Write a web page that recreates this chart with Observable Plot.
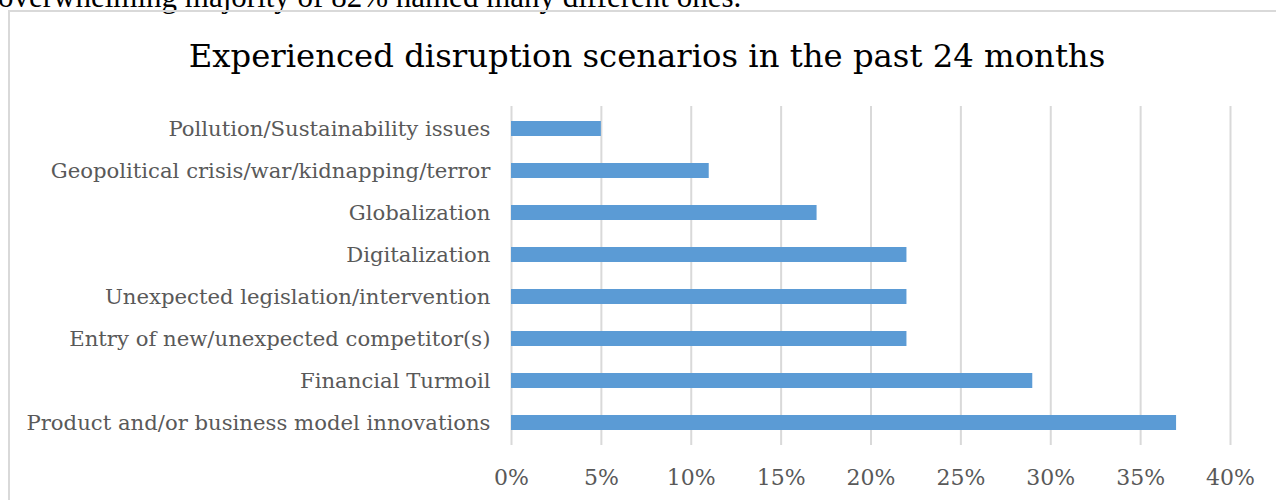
<!DOCTYPE html>
<html>
<head>
<meta charset="utf-8">
<script src="https://cdn.jsdelivr.net/npm/d3@7"></script>
<script src="https://cdn.jsdelivr.net/npm/@observablehq/plot@0.6"></script>
<style>
  html, body { margin: 0; padding: 0; background: #fff; overflow: hidden; }
  #wrap { position: relative; width: 1276px; height: 500px; overflow: hidden; }
  #lead { position: absolute; left: -2px; top: -21px; font-family: "Liberation Serif", serif; font-size: 31px; color: #000; white-space: nowrap; }
  #box { position: absolute; left: 8px; top: 10px; width: 1300px; height: 520px; border-top: 2px solid #d9d9d9; border-left: 2px solid #d9d9d9; box-sizing: border-box; }
  #title { position: absolute; left: 647px; top: 37px; transform: translateX(-50%); font-family: "DejaVu Serif", serif; font-size: 32.3px; color: #000; white-space: nowrap; }
  #chart { position: absolute; left: 0; top: 0; }
</style>
</head>
<body>
<div id="wrap">
  <div id="lead">overwhelming majority of 82% named many different ones.</div>
  <div id="box"></div>
  <div id="title">Experienced disruption scenarios in the past 24 months</div>
  <div id="chart"></div>
</div>
<script>
const categories = [
  "Pollution/Sustainability issues",
  "Geopolitical crisis/war/kidnapping/terror",
  "Globalization",
  "Digitalization",
  "Unexpected legislation/intervention",
  "Entry of new/unexpected competitor(s)",
  "Financial Turmoil",
  "Product and/or business model innovations"
];
const values = [5, 11, 17, 22, 22, 22, 29, 37];
const xTicks = [0, 5, 10, 15, 20, 25, 30, 35, 40];

const data = categories.map((c, i) => ({category: c, value: values[i]}));

const chart = Plot.plot({
  width: 1276,
  height: 500,
  marginLeft: 511,
  marginRight: 46,
  marginTop: 106,
  marginBottom: 55,
  style: {fontFamily: "DejaVu Serif, serif", color: "#595959", background: "transparent"},
  x: {domain: [0, 40], ticks: xTicks, tickFormat: d => d + "%"},
  y: {domain: categories, paddingInner: 0.65, paddingOuter: 0.325},
  marks: [
    Plot.gridX(xTicks, {stroke: "#d9d9d9", strokeOpacity: 1, strokeWidth: 2}),
    Plot.barX(data, {x: "value", y: "category", fill: "#5b9bd5"}),
    Plot.axisX(xTicks, {tickSize: 0, tickPadding: 24, fontSize: 22, fill: "#595959", label: null, tickFormat: d => d + "%"}),
    Plot.axisY({tickSize: 0, tickPadding: 21, fontSize: 21.2, fill: "#595959", label: null})
  ]
});
document.getElementById("chart").appendChild(chart);
</script>
</body>
</html>
